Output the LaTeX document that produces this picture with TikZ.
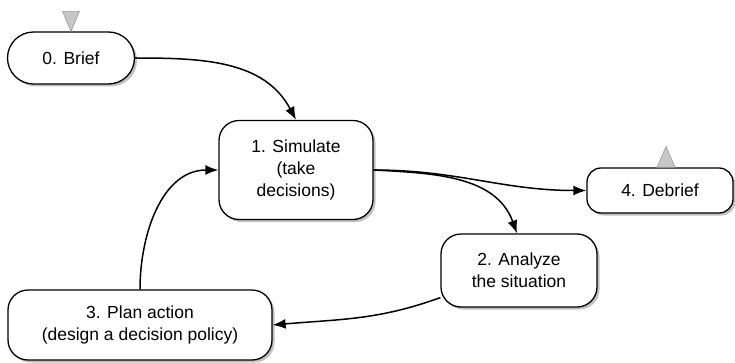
\documentclass[tikz,border=0pt]{standalone}
\usepackage{fontspec}
\setmainfont{Liberation Sans}
\usetikzlibrary{arrows.meta,shadows}

\tikzset{
  step box/.style={draw=black, line width=1.3pt, fill=white, rounded corners=20pt,
    align=center, inner sep=0pt, font=\fontsize{17.5}{22}\selectfont,
    drop shadow={shadow xshift=2.5pt, shadow yshift=-2.5pt, opacity=0.35, fill=black!70}},
  flow/.style={-{Latex[length=13pt,width=10pt]}, line width=1.5pt},
  marker/.style={fill=black!22, draw=black!40, line width=0.6pt}
}

\begin{document}
\begin{tikzpicture}[x=1pt, y=1pt]
  \useasboundingbox (0,0) rectangle (735,362);

  \node[step box, minimum width=127pt, minimum height=52pt, rounded corners=26pt] (brief) at (71,304) {0. Brief};
  \node[step box, minimum width=154pt, minimum height=99pt] (sim) at (296,192) {1. Simulate\\(take\\decisions)};
  \node[step box, minimum width=146pt, minimum height=45pt, rounded corners=14pt] (debrief) at (660,171.5) {4. Debrief};
  \node[step box, minimum width=156pt, minimum height=73pt] (analyze) at (519,91.5) {2. Analyze\\the situation};
  \node[step box, minimum width=264pt, minimum height=70pt] (plan) at (140,37) {3. Plan action\\(design a decision policy)};

  % start and end markers
  \draw[marker] (brief.north) -- ++(-8.5,20) -- ++(17,0) -- cycle;
  \draw[marker] ([xshift=6pt]debrief.north) -- ++(-9,0) -- ++(9,21) -- ++(9,-21) -- cycle;

  \draw[flow] (brief.east) to[out=0, in=118] (sim.north);
  \draw[flow] (sim.east) to[out=0, in=180] (debrief.west);
  \draw[flow] (sim.east) to[out=-3, in=110] ([xshift=-2pt]analyze.north);
  \draw[flow] (analyze.199) to[out=200, in=5] (plan.east);
  \draw[flow] (plan.north) to[out=90, in=180] (sim.west);
\end{tikzpicture}
\end{document}
